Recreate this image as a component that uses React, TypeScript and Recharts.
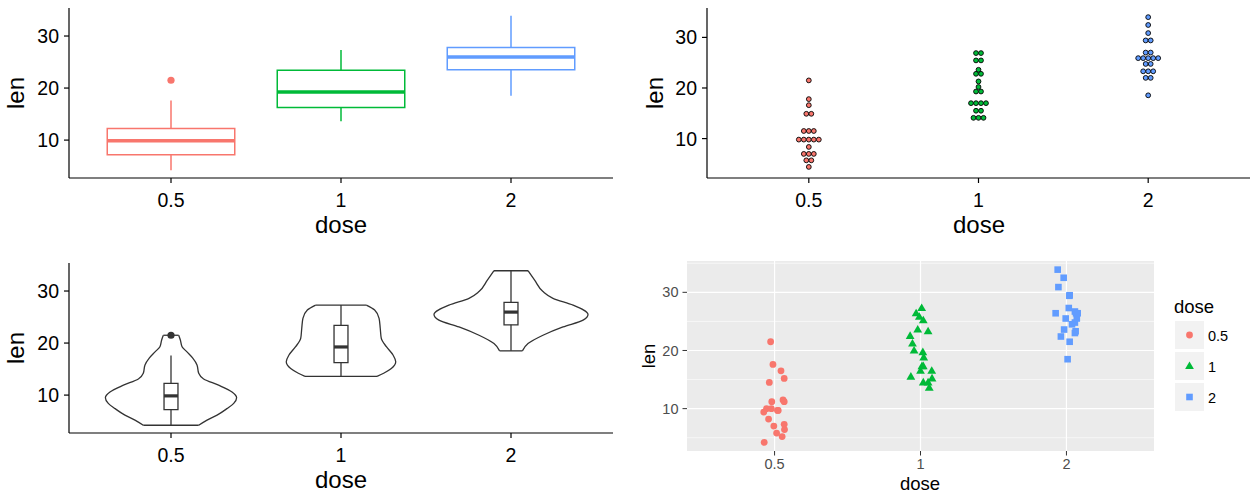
import React from 'react';
import { ComposedChart, Scatter, XAxis, YAxis, CartesianGrid, ReferenceArea, ReferenceLine } from 'recharts';

// categories
const doseLabels = ['0.5', '1', '2'];
const doseColors = ['#F8766D', '#00BA38', '#619CFF'];
const lenTicks = [10, 20, 30];

// box plot stats (panel 1 + inner boxes of panel 3)
const boxLow = [4.2, 13.6, 18.5];
const boxQ1 = [7.2, 16.25, 23.5];
const boxMedian = [9.85, 19.25, 25.95];
const boxQ3 = [12.25, 23.4, 27.8];
const boxHigh = [17.6, 27.3, 33.9];
const boxOutliers = [{ dose: 0, len: 21.5 }];

// dot plot bins: [bin centre, dot count]
const dotBins05 = [[21.5, 1], [17.8, 1], [16.6, 1], [14.9, 2], [11.5, 3], [9.8, 5], [8.35, 1], [6.97, 3], [5.7, 2], [4.4, 1]];
const dotBins1 = [[26.9, 2], [25.45, 2], [23.6, 1], [22.8, 2], [21.3, 1], [20.2, 1], [19.3, 2], [17.0, 4], [15.5, 2], [14.1, 3]];
const dotBins2 = [[34.0, 1], [32.45, 1], [30.85, 1], [29.4, 2], [27.0, 2], [25.9, 5], [24.75, 2], [23.3, 3], [22.0, 2], [18.55, 1]];

// violin outlines: [len, half width in category units]
const violin05 = [[4.2, 0.163], [5.2, 0.212], [6.15, 0.271], [7.4, 0.329], [8.4, 0.369], [9.5, 0.386], [10.6, 0.359], [11.9, 0.28], [13.1, 0.192], [14.2, 0.163], [15.8, 0.153], [17.1, 0.128], [18.3, 0.094], [19.3, 0.065], [20.6, 0.055], [21.5, 0.045]];
const violin1 = [[13.6, 0.212], [14.2, 0.251], [15.1, 0.296], [16.4, 0.322], [17.7, 0.306], [19.3, 0.267], [20.9, 0.237], [22.8, 0.231], [24.75, 0.224], [26.35, 0.198], [27.3, 0.149]];
const violin2 = [[18.5, 0.067], [19.9, 0.1], [21.5, 0.188], [23.1, 0.306], [24.4, 0.424], [25.5, 0.453], [27.3, 0.365], [28.6, 0.247], [29.9, 0.188], [32.1, 0.139], [33.9, 0.1]];

// jittered points: [len, jittered x position]
const jitter05 = [[21.5, 0.973], [17.6, 0.989], [16.5, 1.044], [14.5, 0.964], [15.2, 1.066], [11.2, 0.981], [11.5, 1.058], [11.2, 1.066], [9.4, 0.926], [10.0, 0.945], [10.0, 0.978], [9.7, 1.025], [9.7, 1.02], [8.2, 0.959], [7.0, 0.995], [7.3, 1.066], [6.4, 1.068], [5.8, 1.014], [5.2, 1.052], [4.2, 0.929]];
const jitter1 = [[27.3, 2.008], [26.4, 1.970], [25.8, 1.992], [25.2, 2.019], [23.6, 1.981], [23.3, 2.052], [22.5, 1.929], [21.2, 1.945], [20.0, 1.956], [19.7, 2.016], [18.8, 2.022], [17.3, 2.019], [17.3, 2.01], [16.5, 2.0], [16.5, 2.077], [15.5, 1.934], [15.2, 2.079], [14.5, 2.019], [14.5, 2.052], [13.6, 2.060]];
const jitter2 = [[33.9, 2.940], [32.5, 2.981], [30.9, 2.945], [29.5, 3.022], [29.4, 3.02], [27.3, 3.016], [26.7, 3.058], [26.4, 2.926], [26.4, 3.077], [26.4, 3.066], [25.5, 2.995], [25.5, 3.071], [24.8, 3.058], [24.5, 3.038], [23.6, 2.984], [23.3, 3.063], [23.0, 3.058], [22.4, 2.962], [21.5, 3.022], [18.5, 3.008]];

const dotBins = [dotBins05, dotBins1, dotBins2];
const violins = [violin05, violin1, violin2];
const jitters = [jitter05, jitter1, jitter2];
const markKinds = ['circle', 'triangle', 'square'];

const FONT = 'Liberation Sans, Arial, Helvetica, sans-serif';
const X_DOMAIN: [number, number] = [0.4, 3.6];
const LEN_DOMAIN: [number, number] = [2.715, 35.385];
const BOX_HALF = 0.375;
const INNER_HALF = 0.041;
const DOT_STEP = 5;

const pos = (i: number) => i + 1;
const fmtDose = (v: number) => doseLabels[v - 1] ?? '';

const classicAxis = { stroke: '#000', strokeWidth: 1.2 };
const classicTick = { fill: '#000', fontSize: 19.5, fontFamily: FONT };

const DotStack = (props: any) => {
  const { cx, cy, payload, color } = props;
  const n = payload.n;
  return (
    <g>
      {Array.from({ length: n }, (_, k) => (
        <circle key={k} cx={cx + (k - (n - 1) / 2) * DOT_STEP} cy={cy} r={2.4} fill={color} stroke="#000" strokeWidth={0.9} />
      ))}
    </g>
  );
};

const Mark = ({ cx, cy, kind, color }: any) => {
  if (kind === 'triangle') {
    return <polygon points={`${cx},${cy - 4.6} ${cx - 4.4},${cy + 3} ${cx + 4.4},${cy + 3}`} fill={color} />;
  }
  if (kind === 'square') {
    return <rect x={cx - 3.3} y={cy - 3.3} width={6.6} height={6.6} fill={color} />;
  }
  return <circle cx={cx} cy={cy} r={3.4} fill={color} />;
};

const Empty = () => <g />;

const boxParts = (i: number, half: number, color: string, width: number, medWidth: number, fill: string) => {
  const x = pos(i);
  return [
    <ReferenceLine key={`wl${i}`} segment={[{ x, y: boxLow[i] }, { x, y: boxQ1[i] }]} stroke={color} strokeWidth={width} ifOverflow="visible" />,
    <ReferenceLine key={`wh${i}`} segment={[{ x, y: boxQ3[i] }, { x, y: boxHigh[i] }]} stroke={color} strokeWidth={width} ifOverflow="visible" />,
    <ReferenceArea key={`b${i}`} x1={x - half} x2={x + half} y1={boxQ1[i]} y2={boxQ3[i]} fill={fill} fillOpacity={1} stroke={color} strokeWidth={width} ifOverflow="visible" />,
    <ReferenceLine key={`m${i}`} segment={[{ x: x - half, y: boxMedian[i] }, { x: x + half, y: boxMedian[i] }]} stroke={color} strokeWidth={medWidth} ifOverflow="visible" />,
  ];
};

const classicAxes = (xHeight: number, yWidth: number, yDomain: [number, number]) => [
  <XAxis key="x" type="number" dataKey="x" domain={X_DOMAIN} allowDataOverflow ticks={[1, 2, 3]} interval={0} tickFormatter={fmtDose}
    height={xHeight} axisLine={classicAxis} tickLine={classicAxis} tickSize={5} tickMargin={10} tick={classicTick} />,
  <YAxis key="y" type="number" dataKey="y" domain={yDomain} allowDataOverflow ticks={lenTicks} interval={0}
    width={yWidth} axisLine={classicAxis} tickLine={classicAxis} tickSize={5} tickMargin={5} tick={classicTick} />,
];

const BoxPanel = () => (
  <ComposedChart width={625} height={245} margin={{ top: 8, right: 12, bottom: 0, left: 0 }}>
    {classicAxes(67, 69, LEN_DOMAIN)}
    {doseLabels.flatMap((_, i) => boxParts(i, BOX_HALF, doseColors[i], 1.5, 3.5, '#fff'))}
    <Scatter data={boxOutliers.map((o) => ({ x: pos(o.dose), y: o.len }))} isAnimationActive={false}
      shape={(p: any) => <circle cx={p.cx} cy={p.cy} r={3.6} fill={doseColors[0]} />} />
  </ComposedChart>
);

const DotPanel = () => (
  <ComposedChart width={625} height={245} margin={{ top: 8, right: 0, bottom: 0, left: 0 }}>
    {classicAxes(67, 82, [2.21, 35.81])}
    {dotBins.map((bins, i) => (
      <Scatter key={i} data={bins.map(([len, n]) => ({ x: pos(i), y: len, n }))} isAnimationActive={false}
        shape={(p: any) => <DotStack {...p} color={doseColors[i]} />} />
    ))}
  </ComposedChart>
);

const ViolinPanel = () => (
  <ComposedChart width={625} height={250} margin={{ top: 18, right: 12, bottom: 0, left: 0 }}>
    {classicAxes(62, 69, LEN_DOMAIN)}
    {violins.flatMap((prof, i) => {
      const x = pos(i);
      const first = prof[0];
      const last = prof[prof.length - 1];
      const line = { stroke: '#333333', strokeWidth: 1.3 };
      return [
        <Scatter key={`vl${i}`} data={prof.map(([len, hw]) => ({ x: x - hw, y: len }))} line={line} lineJointType="monotoneY" shape={Empty} isAnimationActive={false} />,
        <Scatter key={`vr${i}`} data={prof.map(([len, hw]) => ({ x: x + hw, y: len }))} line={line} lineJointType="monotoneY" shape={Empty} isAnimationActive={false} />,
        <ReferenceLine key={`vb${i}`} segment={[{ x: x - first[1], y: first[0] }, { x: x + first[1], y: first[0] }]} {...line} ifOverflow="visible" />,
        <ReferenceLine key={`vt${i}`} segment={[{ x: x - last[1], y: last[0] }, { x: x + last[1], y: last[0] }]} {...line} ifOverflow="visible" />,
      ];
    })}
    {doseLabels.flatMap((_, i) => boxParts(i, INNER_HALF, '#333333', 1.3, 3.2, '#fff'))}
    <Scatter data={boxOutliers.map((o) => ({ x: pos(o.dose), y: o.len }))} isAnimationActive={false}
      shape={(p: any) => <circle cx={p.cx} cy={p.cy} r={3.6} fill="#333333" />} />
  </ComposedChart>
);

const greyTick = { fill: '#4D4D4D', fontSize: 14.5, fontFamily: FONT };
const greyLine = { stroke: '#333333', strokeWidth: 1 };

const JitterPanel = () => (
  <ComposedChart width={625} height={250} margin={{ top: 16, right: 96, bottom: 0, left: 0 }}>
    <CartesianGrid fill="#EBEBEB" stroke="#fff" strokeWidth={0.6} horizontalValues={[5, 15, 25, 35]} vertical={false} />
    <CartesianGrid stroke="#fff" strokeWidth={1.2} horizontalValues={lenTicks} verticalValues={[1, 2, 3]} />
    <XAxis type="number" dataKey="x" domain={X_DOMAIN} allowDataOverflow ticks={[1, 2, 3]} interval={0} tickFormatter={fmtDose}
      height={44} axisLine={false} tickLine={greyLine} tickSize={4.5} tickMargin={3} tick={greyTick} />
    <YAxis type="number" dataKey="y" domain={LEN_DOMAIN} allowDataOverflow ticks={lenTicks} interval={0}
      width={62} axisLine={false} tickLine={greyLine} tickSize={4.5} tickMargin={4} tick={greyTick} />
    {jitters.map((pts, i) => (
      <Scatter key={i} data={pts.map(([len, jx]) => ({ x: jx, y: len }))} isAnimationActive={false}
        shape={(p: any) => <Mark cx={p.cx} cy={p.cy} kind={markKinds[i]} color={doseColors[i]} />} />
    ))}
  </ComposedChart>
);

const Titles = () => {
  const big = { fontFamily: FONT, fontSize: 24, fill: '#000' };
  const mid = { fontFamily: FONT, fontSize: 18.5, fill: '#000' };
  const small = { fontFamily: FONT, fontSize: 14.5, fill: '#000' };
  return (
    <svg width={1250} height={495} style={{ position: 'absolute', left: 0, top: 0, pointerEvents: 'none' }}>
      <text x={341} y={233} textAnchor="middle" {...big}>dose</text>
      <text transform="translate(24,93) rotate(-90)" textAnchor="middle" {...big}>len</text>
      <text x={979} y={233} textAnchor="middle" {...big}>dose</text>
      <text transform="translate(663,93) rotate(-90)" textAnchor="middle" {...big}>len</text>
      <text x={341} y={488} textAnchor="middle" {...big}>dose</text>
      <text transform="translate(24,348) rotate(-90)" textAnchor="middle" {...big}>len</text>
      <text x={920} y={490} textAnchor="middle" {...mid}>dose</text>
      <text transform="translate(655,356) rotate(-90)" textAnchor="middle" {...mid}>len</text>
      <text x={1174} y={313} {...mid}>dose</text>
      {doseLabels.map((d, i) => (
        <g key={d}>
          <rect x={1175} y={321 + i * 31} width={29} height={28} fill="#F2F2F2" />
          <Mark cx={1189.5} cy={335 + i * 31} kind={markKinds[i]} color={doseColors[i]} />
          <text x={1208} y={341 + i * 31} {...small}>{d}</text>
        </g>
      ))}
    </svg>
  );
};

export default function App() {
  return (
    <div style={{ position: 'absolute', left: 0, top: 0, width: 1250, height: 495, background: '#fff', fontFamily: FONT }}>
      <div style={{ position: 'absolute', left: 0, top: 0 }}><BoxPanel /></div>
      <div style={{ position: 'absolute', left: 625, top: 0 }}><DotPanel /></div>
      <div style={{ position: 'absolute', left: 0, top: 245 }}><ViolinPanel /></div>
      <div style={{ position: 'absolute', left: 625, top: 245 }}><JitterPanel /></div>
      <Titles />
    </div>
  );
}
